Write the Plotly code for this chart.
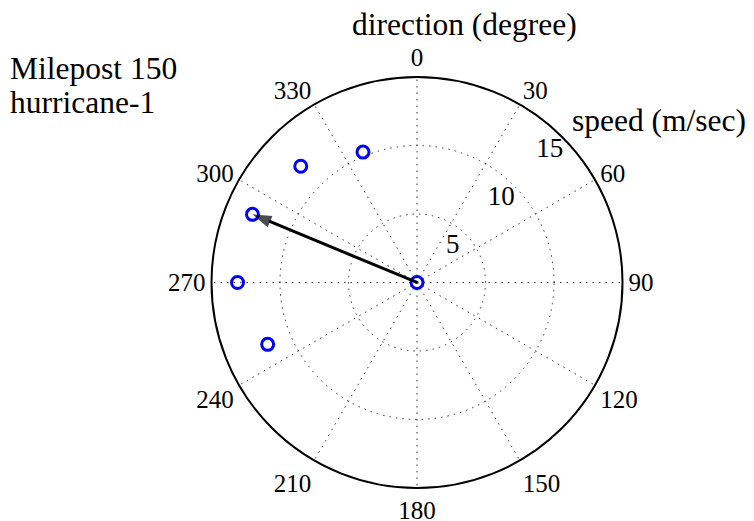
import plotly.graph_objects as go

# wind observations (direction in compass degrees, speed in m/s)
directions = [337.5, 315, 292.5, 270, 247.5]
speeds = [10.3, 12.0, 13.0, 13.1, 11.8]
center_r = [0]
center_theta = [0]

# arrow from origin to the strongest direction
arrow_r = [0, 13.0]
arrow_theta = [292.5, 292.5]

angular_ticks = list(range(0, 360, 30))
radial_ticks = [5, 10, 15]
radial_label_angle = 45

FONT = "Liberation Serif"
BLUE = "#0000ff"
GRID = "#333333"

fig = go.Figure()

fig.add_trace(go.Scatterpolar(
    r=center_r + speeds,
    theta=center_theta + directions,
    mode="markers",
    marker=dict(symbol="circle-open", size=12, color=BLUE, line=dict(width=3, color=BLUE)),
    showlegend=False,
))

fig.add_trace(go.Scatterpolar(
    r=arrow_r,
    theta=arrow_theta,
    mode="lines+markers",
    line=dict(color="black", width=3),
    marker=dict(symbol=["circle", "arrow"], size=[0, 20], color="black",
                angleref="previous", line=dict(width=0)),
    showlegend=False,
))

# radial tick labels, sitting just inside each ring along the 45 deg line
fig.add_trace(go.Scatterpolar(
    r=[t - 1.3 for t in radial_ticks],
    theta=[radial_label_angle] * len(radial_ticks),
    mode="text",
    text=[str(t) for t in radial_ticks],
    textfont=dict(family=FONT, size=27, color="black"),
    showlegend=False,
))

fig.update_layout(
    width=754, height=521,
    margin=dict(l=0, r=0, t=0, b=0),
    paper_bgcolor="white",
    plot_bgcolor="white",
    font=dict(family=FONT, size=27, color="black"),
    polar=dict(
        domain=dict(x=[0.2699, 0.8150], y=[0.0787, 0.8676]),
        bgcolor="white",
        angularaxis=dict(
            rotation=90, direction="clockwise",
            tickmode="array", tickvals=angular_ticks,
            ticktext=[str(t) for t in angular_ticks],
            ticks="", showline=True, linecolor="black", linewidth=2,
            showgrid=True, gridcolor=GRID, griddash="1.5px,5px", gridwidth=1.2,
            tickfont=dict(family=FONT, size=25),
        ),
        radialaxis=dict(
            range=[0, 15], tickmode="array", tickvals=radial_ticks,
            angle=radial_label_angle, showticklabels=False, showline=False, ticks="",
            showgrid=True, gridcolor=GRID, griddash="1.5px,5px", gridwidth=1.2,
        ),
    ),
    annotations=[
        dict(text="direction (degree)", x=0.6048, y=0.9675, xref="paper", yref="paper",
             xanchor="center", yanchor="middle", showarrow=False,
             font=dict(family=FONT, size=31.5)),
        dict(text="speed (m/sec)", x=0.746, y=0.785, xref="paper", yref="paper",
             xanchor="left", yanchor="middle", showarrow=False,
             font=dict(family=FONT, size=31.5)),
        dict(text="Milepost 150", x=0.0, y=0.883, xref="paper", yref="paper",
             xanchor="left", yanchor="middle", showarrow=False,
             font=dict(family=FONT, size=31.5)),
        dict(text="hurricane-1", x=0.0, y=0.8186, xref="paper", yref="paper",
             xanchor="left", yanchor="middle", showarrow=False,
             font=dict(family=FONT, size=31.5)),
    ],
)

fig.write_html("out.html")
